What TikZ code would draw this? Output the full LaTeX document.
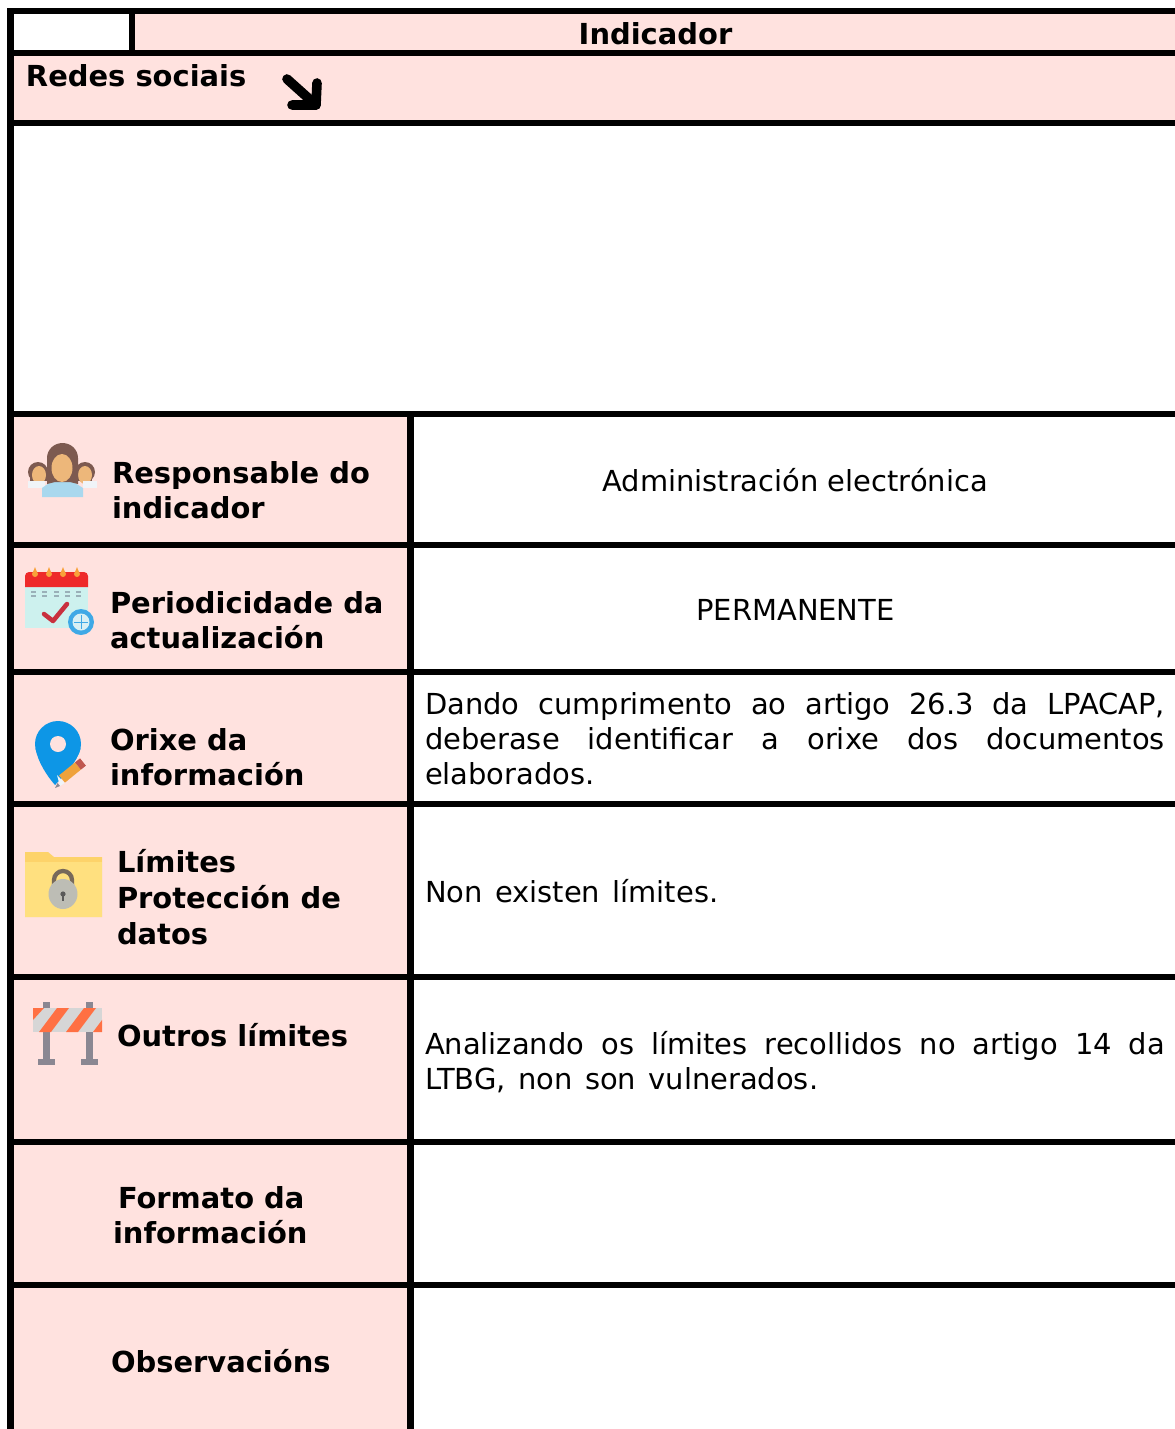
\documentclass[tikz,border=0pt]{standalone}
\usepackage{fontspec}
\setmainfont{DejaVu Sans}
\definecolor{pinkcell}{HTML}{FFE2DF}
\definecolor{hair}{HTML}{7D5A50}
\definecolor{skin}{HTML}{EDB77A}
\definecolor{shirt}{HTML}{A9D8EE}
\definecolor{shirtw}{HTML}{F0F4F8}
\definecolor{calred}{HTML}{EE2A2A}
\definecolor{calbody}{HTML}{CDF1EE}
\definecolor{calflame}{HTML}{F9A23B}
\definecolor{caldash}{HTML}{9AB0B8}
\definecolor{check}{HTML}{C9303E}
\definecolor{clockblue}{HTML}{3FA9E6}
\definecolor{clockin}{HTML}{D8F0F4}
\definecolor{pinblue}{HTML}{0D96E6}
\definecolor{pencil}{HTML}{EFA23C}
\definecolor{pencilend}{HTML}{C0574F}
\definecolor{foldtop}{HTML}{FDD36A}
\definecolor{foldbody}{HTML}{FFE07F}
\definecolor{shackle}{HTML}{77695A}
\definecolor{lockgrey}{HTML}{BDBDB5}
\definecolor{postgrey}{HTML}{8A8792}
\definecolor{bandgrey}{HTML}{D6D6D6}
\definecolor{bandor}{HTML}{FF7043}
\newcommand{\pxfont}{\fontsize{21.7pt}{26.6pt}\selectfont}
\newcommand{\widewords}{\spaceskip=.43em plus .4em minus .1em\relax}
\tikzset{
  x=0.75pt,y=-0.75pt,
  rule/.style={line width=4.8pt,black,line cap=butt},
  lab/.style={anchor=base west,inner sep=0pt,outer sep=0pt,font=\pxfont\bfseries},
  val/.style={anchor=base west,inner sep=0pt,outer sep=0pt,font=\pxfont},
  valc/.style={anchor=base,inner sep=0pt,outer sep=0pt,font=\pxfont},
  para/.style={anchor=base west,inner sep=0pt,outer sep=0pt,font=\pxfont,text width=555pt,align=justify},
  arrowstroke/.style={line width=7.2pt,line cap=round,line join=round},
}
\begin{document}
\begin{tikzpicture}
\useasboundingbox (0,0) rectangle (1175,1429);
\clip (0,0) rectangle (1175,1429);
% fills
\fill[pinkcell] (132,11) rectangle (1175,53);
\fill[pinkcell] (10,53) rectangle (1175,123);
\fill[pinkcell] (10,414) rectangle (410,1429);
% rules
\draw[rule] (8,11) -- (1175,11);
\draw[rule] (10.5,8) -- (10.5,1429);
\draw[rule] (132,8) -- (132,56);
\foreach \yy in {53,123,414,545,672,804,977,1142,1285}
  \draw[rule] (8,\yy) -- (1175,\yy);
\draw[rule] (410.5,412) -- (410.5,1429);
% arrow
\draw[arrowstroke] (287,79) -- (316,105);
\draw[arrowstroke] (317,83) -- (316,105) -- (292,105);
% people icon
\fill[hair] (38,472) circle (10);
\fill[hair] (85,472) circle (10);
\fill[hair] (30,472) rectangle (47,481);
\fill[hair] (77,472) rectangle (92,481);
\fill[skin] (39,475) ellipse (7 and 9);
\fill[skin] (85,475) ellipse (7 and 9);
\fill[shirtw] (28,481) rectangle (45,488);
\fill[shirtw] (83,481) rectangle (97,488);
\fill[shirt] (42,497) -- (42,488) -- (52,481) -- (72,481) -- (83,488) -- (83,497) -- cycle;
\fill[hair] (47,484) -- (47,458) arc (180:360:15.5 and 15) -- (78,484) -- (70,482) -- (55,482) -- cycle;
\fill[skin] (62,468) ellipse (10.5 and 14);
% calendar icon
\fill[calbody] (25,587) rectangle (88,628);
\fill[calred] (25,587) -- (25,576) arc (180:270:4) -- (84,572) arc (270:360:4) -- (88,587) -- cycle;
\foreach \xx in {35,49,63,77} \fill[calflame] (\xx,574) circle (3) (\xx-2,572) -- (\xx,567) -- (\xx+2,572) -- cycle;
\foreach \xx in {33,44,56,67,78} \foreach \yy in {592,596} \fill[caldash] (\xx-2.5,\yy-1) rectangle (\xx+2.5,\yy+1);
\draw[check,line width=3.4pt,line cap=round,line join=round] (44,614) -- (53,621) -- (67,604);
\fill[clockblue] (81,622) circle (13);
\fill[clockin] (81,622) circle (8.5);
\draw[clockblue,line width=.6pt] (74,622) -- (88,622) (81,615) -- (81,629);
% pin icon
\fill[pinblue] (58,744) circle (23);
\fill[pinblue] (35.6,749) .. controls (38,762) and (47,776) .. (55,785) .. controls (65,775) and (77,762) .. (80.4,749) -- cycle;
\fill[pinkcell] (58,744) circle (8);
\draw[pencil,line width=7pt] (62,779) -- (78,766);
\draw[pencilend,line width=7pt] (78,766) -- (83,762);
\fill[shirtw] (57,775) -- (64.5,783) -- (60,786) -- cycle;
\fill[postgrey] (55,788) -- (57.5,783) -- (60,786) -- cycle;
% folder icon
\fill[foldtop] (25,917) -- (25,852) -- (48,852) -- (54,857) -- (102,857) -- (102,917) -- cycle;
\fill[foldbody] (25,862) rectangle (102,917);
\draw[shackle,line width=3.2pt] (54,890) -- (54,880) arc (180:360:9) -- (72,890);
\fill[lockgrey] (63,894) ellipse (14.5 and 15);
\fill[black!65] (63,894) circle (2.6);
\fill[black!65] (61.7,894) rectangle (64.3,901);
% barrier icon
\foreach \xx in {46,89}{
  \fill[postgrey] (\xx-3.5,1002) rectangle (\xx+3.5,1062);
  \fill[postgrey] (\xx-8.5,1059) rectangle (\xx+8.5,1065);
}
\fill[bandgrey] (33,1008) rectangle (102,1032);
\begin{scope}
\clip (33,1008) rectangle (102,1032);
\foreach \xx in {33,60,87,114}
  \fill[bandor] (\xx+6,1032) -- (\xx+24,1008) -- (\xx+36,1008) -- (\xx+18,1032) -- cycle;
\fill[bandor] (33,1008) -- (44,1008) -- (33,1020) -- cycle;
\end{scope}
% texts
\node[lab,anchor=base] (t0) at (655.5,44) {Indicador};
\node[lab] (t1) at (26,86) {Redes sociais};
\node[lab] (t2) at (112,483) {Responsable do};
\node[lab] (t3) at (112,518) {indicador};
\node[valc] (v1) at (795,491) {Administración electrónica};
\node[lab] (t4) at (110,613) {Periodicidade da};
\node[lab] (t5) at (110,648) {actualización};
\node[valc] (v2) at (795.5,620) {PERMANENTE};
\node[lab] (t6) at (110,750) {Orixe da};
\node[lab] (t7) at (110,785) {información};
\node[para] (v3) at (425,714) {Dando cumprimento ao artigo 26.3 da LPACAP,\linebreak deberase identificar a orixe dos documentos\linebreak elaborados.};
\node[lab] (t8) at (117,872) {Límites};
\node[lab] (t9) at (117,908) {Protección de};
\node[lab] (t10) at (117,944) {datos};
\node[val] (v4) at (425,902) {\widewords Non existen límites.};
\node[lab] (t11) at (117,1046) {Outros límites};
\node[para] (v5) at (425,1054) {\widewords Analizando os límites recollidos no artigo 14 da\linebreak LTBG, non son vulnerados.};
\node[lab] (t12) at (118,1208) {Formato da};
\node[lab] (t13) at (113,1243) {información};
\node[lab] (t14) at (111,1372) {Observacións};
\end{tikzpicture}
\end{document}
